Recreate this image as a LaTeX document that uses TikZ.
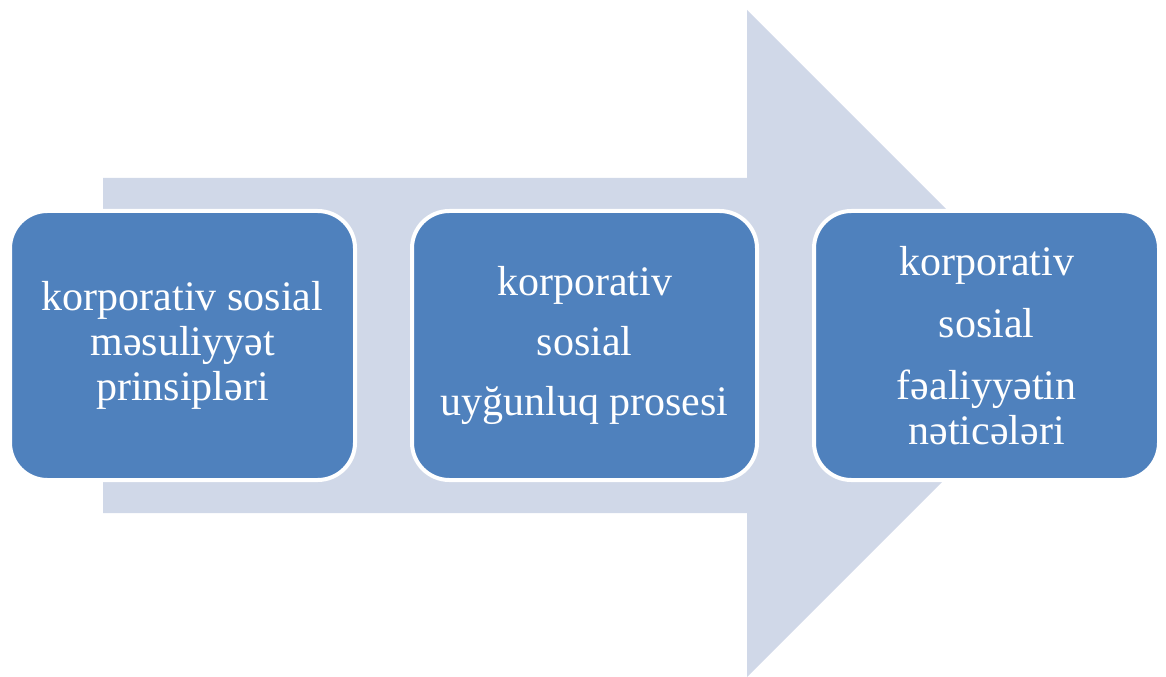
\documentclass[tikz,border=0pt]{standalone}
\usepackage{fontspec}
\setmainfont{Liberation Serif}
\usepackage{xcolor}
\usepackage{tikz}
\usetikzlibrary{positioning}
\definecolor{boxbg}{HTML}{4F81BD}
\definecolor{arbg}{HTML}{D0D8E8}
\tikzset{
  stp/.style ={draw=white, line width=3pt, fill=boxbg, rounded corners=28pt,
               minimum width=258.75pt, minimum height=201.75pt, outer sep=0pt,
               inner sep=0pt, align=center, text=white,
               font=\fontsize{31.5}{33.75}\selectfont},
  bigar/.style={fill=arbg},
}
\begin{document}
\begin{tikzpicture}[x=0.75pt,y=-0.75pt]
\useasboundingbox (0,0) rectangle (1166,677);
% background arrow
\fill[bigar] (103,178) -- (747,178) -- (747,10) -- (1080.5,343.5)
  -- (747,677) -- (747,513) -- (103,513) -- cycle;
\node[stp] (prin) at (182.5,345.5)
  {korporativ sosial\\ məsuliyyət\\ prinsipləri};
\node[stp, right=42.75pt of prin] (uygun)
  {korporativ\\[11.25pt] sosial\\[11.25pt] uyğunluq prosesi};
\node[stp, right=42.75pt of uygun] (netice)
  {korporativ\\[13pt] sosial\\[13pt] fəaliyyətin\\ nəticələri};
\end{tikzpicture}
\end{document}
